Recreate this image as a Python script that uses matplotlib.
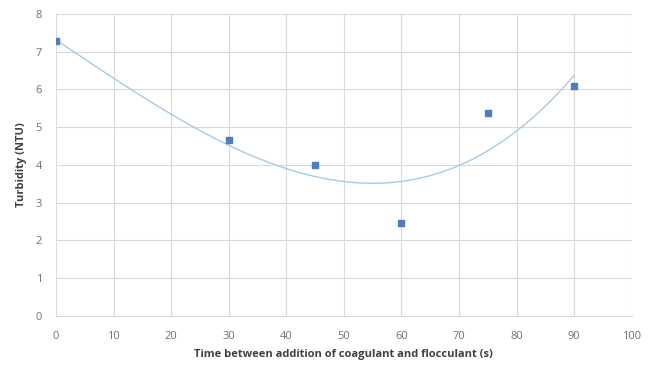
import numpy as np
import matplotlib
matplotlib.use('Agg')
import matplotlib.pyplot as plt

# time between coagulant and flocculant addition (s) vs turbidity (NTU)
time_s = [0, 30, 45, 60, 75, 90]
turbidity = [7.27, 4.66, 4.0, 2.46, 5.37, 6.08]

plt.rcParams['font.family'] = ['Open Sans', 'DejaVu Sans']

fig = plt.figure(figsize=(6.54, 3.66), dpi=100)
ax = fig.add_axes([0.0856, 0.1366, 0.8804, 0.8254])

# polynomial trendline, like the spreadsheet one
coef = np.polyfit(time_s, turbidity, 3)
xs = np.linspace(min(time_s), max(time_s), 200)
ax.plot(xs, np.polyval(coef, xs), color='#A7CAE8', lw=1.0, zorder=2)

ax.scatter(time_s, turbidity, marker='s', s=22, color='#4F7EBB', zorder=3)

ax.set_xlim(0, 100)
ax.set_ylim(0, 8)
ax.set_xticks(range(0, 101, 10))
ax.set_yticks(range(0, 9))
ax.grid(True, color='#D9D9D9', lw=0.8)
ax.set_axisbelow(True)
for s in ['top', 'right', 'left']:
    ax.spines[s].set_visible(False)
ax.spines['bottom'].set_color('#D9D9D9')
ax.tick_params(length=0, labelsize=8, labelcolor='#707070')
ax.tick_params(axis='x', pad=11)
ax.tick_params(axis='y', pad=10)

ax.set_xlabel('Time between addition of coagulant and flocculant (s)',
              fontsize=8, fontweight='bold', color='#404040', labelpad=5)
ax.set_ylabel('Turbidity (NTU)', fontsize=8, fontweight='bold', color='#404040', labelpad=6)

fig.savefig('out.png', dpi=100, facecolor='white')
